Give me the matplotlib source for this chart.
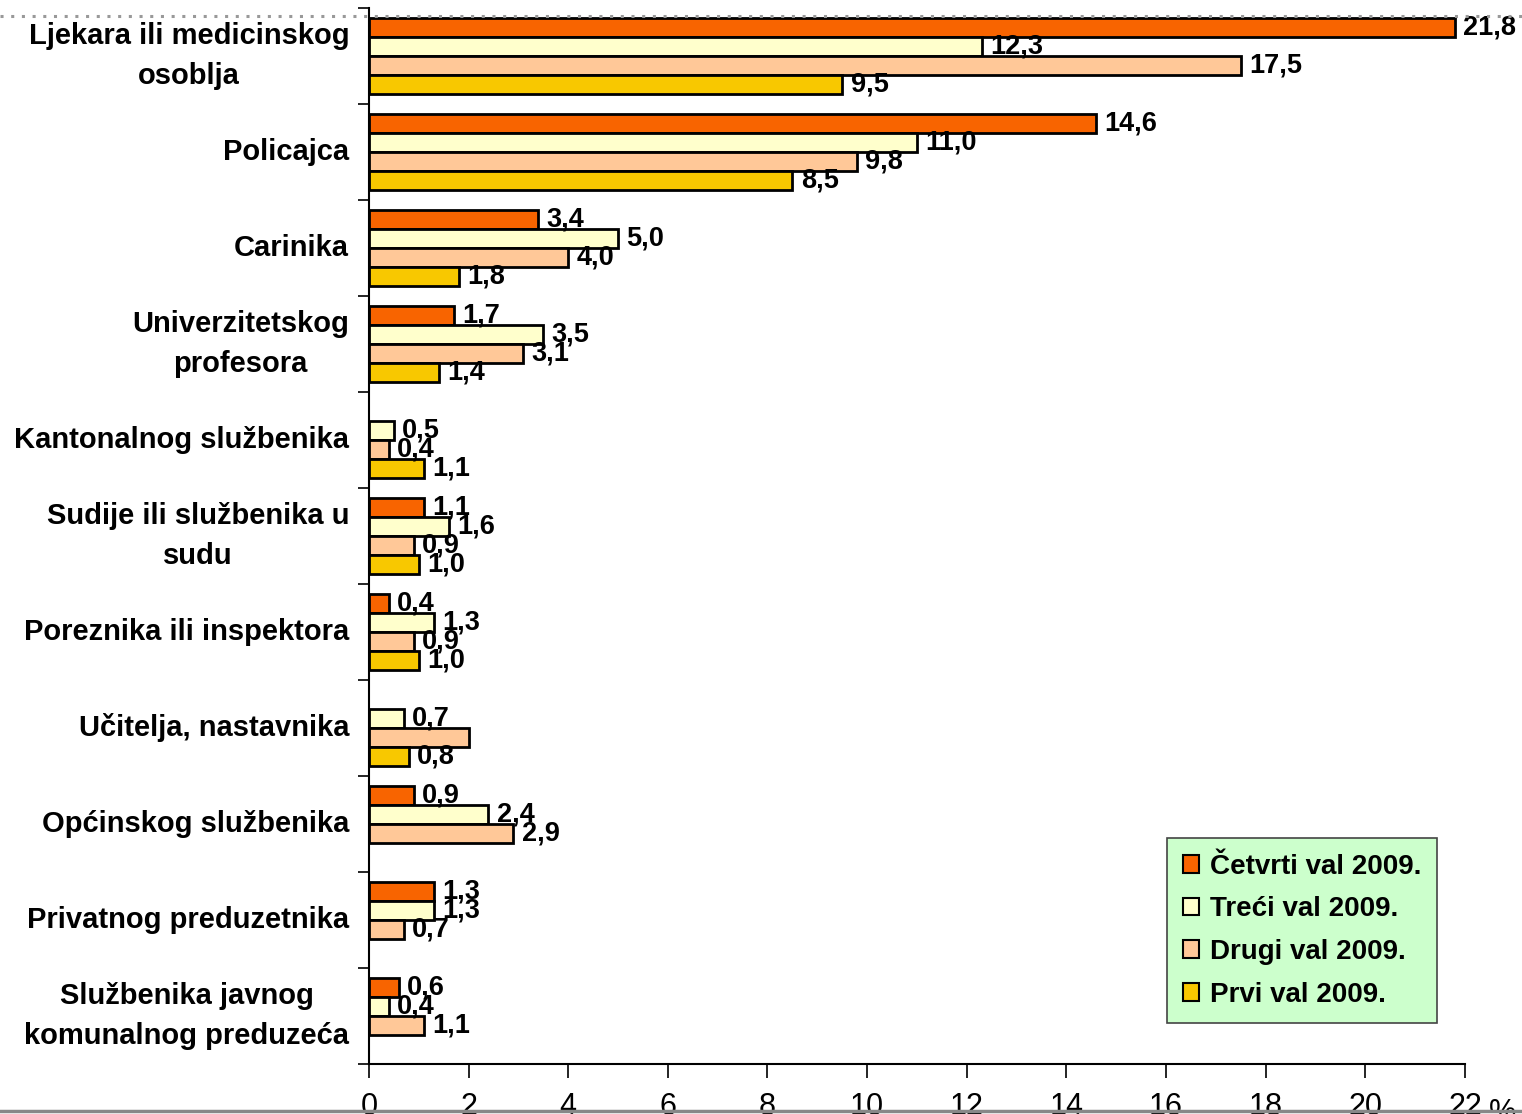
import numpy as np
import matplotlib
matplotlib.use("Agg")
import matplotlib.pyplot as plt
from matplotlib.patches import Patch
from matplotlib.lines import Line2D

plt.rcParams['font.family'] = ['Liberation Sans', 'DejaVu Sans']

# categories, top to bottom
categories = [
    "Ljekara ili medicinskog\nosoblja",
    "Policajca",
    "Carinika",
    "Univerzitetskog\nprofesora",
    "Kantonalnog službenika",
    "Sudije ili službenika u\nsudu",
    "Poreznika ili inspektora",
    "Učitelja, nastavnika",
    "Općinskog službenika",
    "Privatnog preduzetnika",
    "Službenika javnog\nkomunalnog preduzeća",
]

# values in %, None = no bar
cetvrti = [21.8, 14.6, 3.4, 1.7, None, 1.1, 0.4, None, 0.9, 1.3, 0.6]
treci = [12.3, 11.0, 5.0, 3.5, 0.5, 1.6, 1.3, 0.7, 2.4, 1.3, 0.4]
drugi = [17.5, 9.8, 4.0, 3.1, 0.4, 0.9, 0.9, 2.0, 2.9, 0.7, 1.1]
prvi = [9.5, 8.5, 1.8, 1.4, 1.1, 1.0, 1.0, 0.8, None, None, None]

series_names = ["Četvrti val 2009.", "Treći val 2009.", "Drugi val 2009.", "Prvi val 2009."]
series_colors = ["#F86400", "#FFFFCC", "#FFC898", "#F8C800"]
# labels not shown in the original (series index, category index)
hidden_labels = {(2, 7)}

x_ticks = [0, 2, 4, 6, 8, 10, 12, 14, 16, 18, 20, 22]

fig = plt.figure(figsize=(15.22, 11.14), dpi=100)
ax = fig.add_axes([0.2424, 0.0449, 0.7201, 0.9479])

y = np.arange(len(categories))
bar_h = 0.2
offsets = [-0.3, -0.1, 0.1, 0.3]

for s, (vals, col, off) in enumerate(zip([cetvrti, treci, drugi, prvi], series_colors, offsets)):
    widths = [np.nan if v is None else v for v in vals]
    bars = ax.barh(y + off, widths, height=bar_h, color=col, edgecolor='black', linewidth=2)
    labels = []
    for i, v in enumerate(vals):
        if v is None or (s, i) in hidden_labels:
            labels.append('')
        else:
            labels.append(f"{v:.1f}".replace('.', ','))
    ax.bar_label(bars, labels=labels, padding=6, fontsize=19.5, fontweight='bold')

ax.set_ylim(len(categories) - 0.5, -0.5)
ax.set_xlim(0, 22)

# category labels
ax.set_yticks([])
ax.set_yticks(np.arange(len(categories) + 1) - 0.5, minor=True)
ax.tick_params(axis='y', which='minor', length=8, width=1.2, direction='out')
for i, cat in enumerate(categories):
    ax.text(-0.018, i, cat, transform=ax.get_yaxis_transform(), ha='right', va='center',
            multialignment='center', fontsize=21, fontweight='bold', linespacing=1.55)

ax.set_xticks(x_ticks)
ax.set_xticklabels([str(t) for t in x_ticks], fontsize=22)
ax.tick_params(axis='x', length=10, width=1.2, pad=10, direction='out')
ax.text(1.022, -0.032, "%", transform=ax.transAxes, fontsize=22, ha='left', va='top')

for side in ['top', 'right']:
    ax.spines[side].set_visible(False)
for side in ['left', 'bottom']:
    ax.spines[side].set_linewidth(1.5)

handles = [Patch(facecolor=c, edgecolor='black', linewidth=1.5) for c in series_colors]
leg = ax.legend(handles, series_names, loc='lower right', bbox_to_anchor=(0.9745, 0.0388),
                borderaxespad=0, fancybox=False, framealpha=1, facecolor='#CCFFCC',
                edgecolor='#444444', prop={'weight': 'bold', 'size': 20},
                handlelength=0.6, handleheight=0.6, handletextpad=0.4,
                labelspacing=0.6, borderpad=0.55)
leg.get_frame().set_linewidth(1.2)

# dotted line at the top and grey line at the bottom edge
fig.add_artist(Line2D([0, 1], [1 - 16 / 1114, 1 - 16 / 1114], transform=fig.transFigure,
                      color='#999999', linestyle=(0, (1, 2.5)), linewidth=2.2))
fig.add_artist(Line2D([0, 1], [1 - 1111 / 1114, 1 - 1111 / 1114], transform=fig.transFigure,
                      color='#888888', linewidth=2.5))

fig.savefig('out.png', dpi=100)
